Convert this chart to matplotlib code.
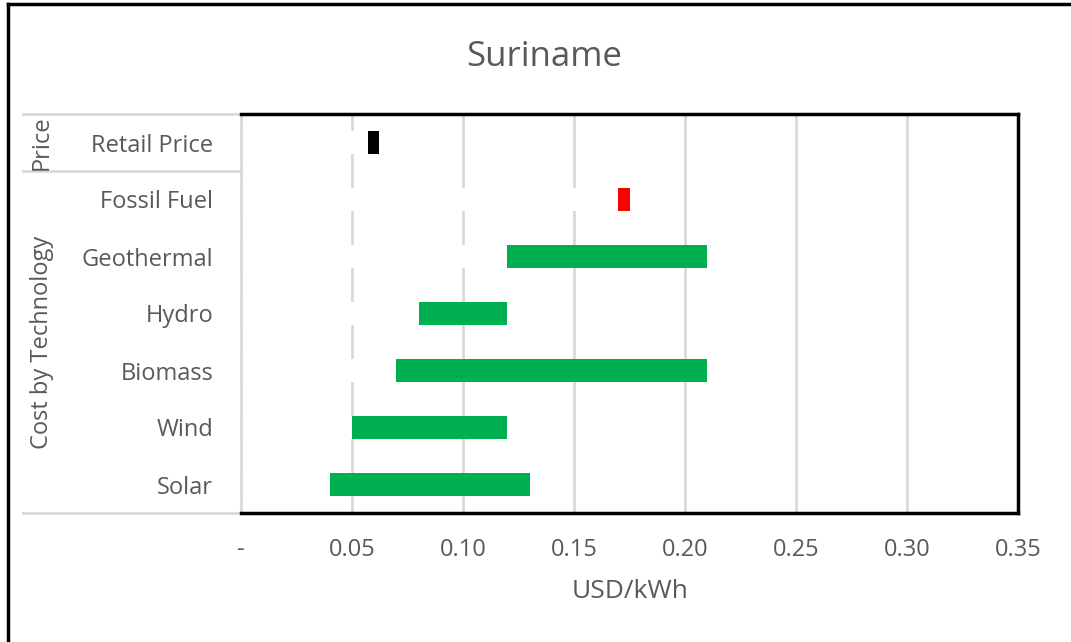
"""Levelised cost ranges by technology vs. retail price, Suriname."""
import matplotlib

matplotlib.use("Agg")
import matplotlib.pyplot as plt
from matplotlib.lines import Line2D
from matplotlib.transforms import blended_transform_factory

plt.rcParams["font.family"] = ["Open Sans", "DejaVu Sans"]

TEXT = "#595959"
GRID = "#D9D9D9"

# --------------------------------------------------------------------------- #
# Data (USD/kWh)
# --------------------------------------------------------------------------- #
categories = ["Retail Price", "Fossil Fuel", "Geothermal", "Hydro", "Biomass", "Wind", "Solar"]
cost_low = [0.057, 0.170, 0.12, 0.08, 0.07, 0.05, 0.04]
cost_high = [0.062, 0.175, 0.21, 0.12, 0.21, 0.12, 0.13]
bar_colors = ["#000000", "#FF0000", "#00B050", "#00B050", "#00B050", "#00B050", "#00B050"]

x_ticks = [0.0, 0.05, 0.10, 0.15, 0.20, 0.25, 0.30, 0.35]
x_ticklabels = ["-", "0.05", "0.10", "0.15", "0.20", "0.25", "0.30", "0.35"]

# group label -> number of rows it spans (top to bottom)
groups = [("Price", 1), ("Cost by Technology", 6)]

W, H = 1071, 642
fig = plt.figure(figsize=(W / 100, H / 100), dpi=100)
ax = fig.add_axes([241 / W, 1 - 513 / H, (1018 - 241) / W, (513 - 114) / H])

n = len(categories)
ypos = list(range(n - 1, -1, -1))  # first category at the top

# invisible (white) base segment, then the visible range on top of it
widths = [h - l for l, h in zip(cost_low, cost_high)]
ax.barh(ypos, cost_low, height=0.4, color="white", zorder=2)
ax.barh(ypos, widths, left=cost_low, height=0.4, color=bar_colors, zorder=3)

ax.set_xlim(0, 0.35)
ax.set_ylim(-0.5, n - 0.5)
ax.set_xticks(x_ticks)
ax.set_xticklabels(x_ticklabels)
ax.set_yticks(ypos)
ax.set_yticklabels(categories)
ax.tick_params(axis="x", length=0, pad=18, labelsize=17, labelcolor=TEXT)
ax.tick_params(axis="y", length=0, pad=20, labelsize=17, labelcolor=TEXT)
ax.xaxis.grid(True, color=GRID, linewidth=2, zorder=1)
ax.set_axisbelow(True)

for side in ("top", "right", "bottom"):
    ax.spines[side].set_color("black")
    ax.spines[side].set_linewidth(2.5)
    ax.spines[side].set_zorder(5)
ax.spines["left"].set_color(GRID)
ax.spines["left"].set_linewidth(2)

# group separators and rotated group labels on the category axis
trans = blended_transform_factory(fig.transFigure, ax.transData)
x_sep0 = 23 / W
x_axis = 241 / W
top = n - 0.5
ax.add_line(Line2D([x_sep0, x_axis], [top, top], transform=trans, color=GRID,
                   linewidth=2, clip_on=False))
for label, span in groups:
    bottom = top - span
    ax.add_line(Line2D([x_sep0, x_axis], [bottom, bottom], transform=trans, color=GRID,
                       linewidth=2, clip_on=False))
    ax.text(42 / W, (top + bottom) / 2, label, transform=trans, rotation=90,
            ha="center", va="center", fontsize=17, color=TEXT)
    top = bottom

fig.text(630 / W, 1 - 591 / H, "USD/kWh", ha="center", va="center", fontsize=19, color=TEXT)
fig.text(544 / W, 1 - 57 / H, "Suriname", ha="center", va="center", fontsize=25, color=TEXT)

# chart frame (left and top edges)
fig.add_artist(Line2D([8 / W, 8 / W], [0, 1 - 4 / H], transform=fig.transFigure,
                      color="black", linewidth=2.5))
fig.add_artist(Line2D([8 / W, 1], [1 - 4 / H, 1 - 4 / H], transform=fig.transFigure,
                      color="black", linewidth=2.5))

fig.savefig("out.png", dpi=100, facecolor="white")
